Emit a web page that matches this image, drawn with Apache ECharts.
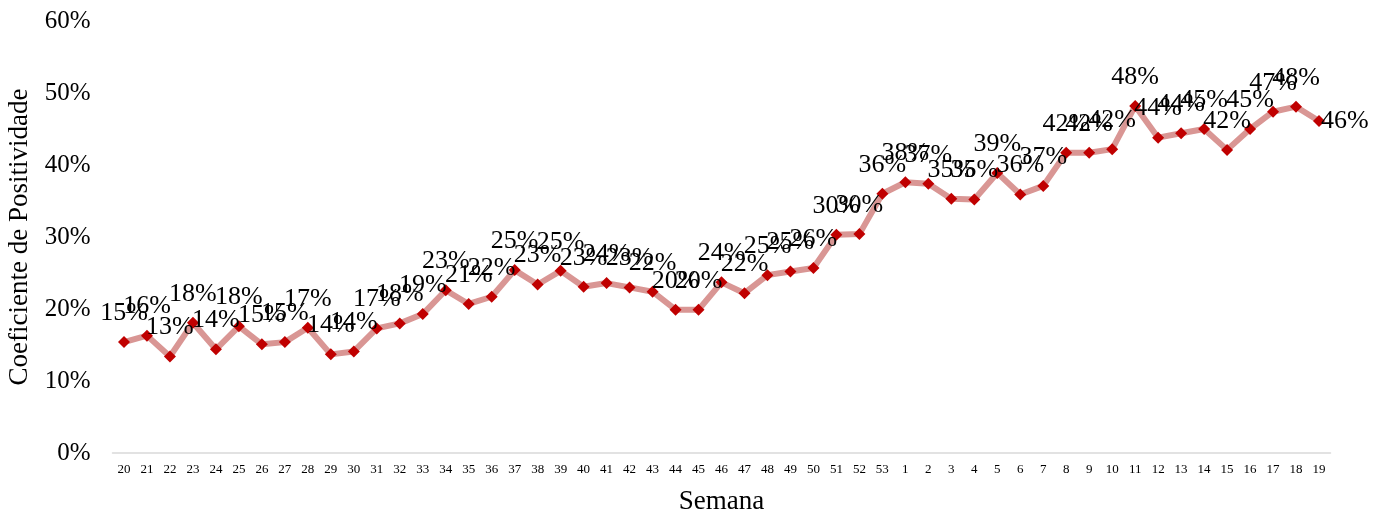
<!DOCTYPE html>
<html>
<head>
<meta charset="utf-8">
<script src="https://cdn.jsdelivr.net/npm/echarts@6/dist/echarts.min.js"></script>
<style>html,body{margin:0;padding:0;background:#fff}#c{width:1376px;height:514px}</style>
</head>
<body>
<div id="c"></div>
<script>
const weeks = ['20','21','22','23','24','25','26','27','28','29','30','31','32','33','34','35','36','37','38','39','40','41','42','43','44','45','46','47','48','49','50','51','52','53','1','2','3','4','5','6','7','8','9','10','11','12','13','14','15','16','17','18','19'];
const positividade = [15.4,16.3,13.4,18.1,14.4,17.6,15.1,15.4,17.4,13.7,14.1,17.3,18.0,19.3,22.6,20.7,21.7,25.4,23.4,25.3,23.1,23.6,23.0,22.4,19.9,19.9,23.7,22.2,24.7,25.2,25.7,30.3,30.4,36.0,37.6,37.4,35.3,35.2,38.9,35.9,37.1,41.7,41.7,42.2,48.2,43.8,44.4,45.0,42.1,45.0,47.4,48.1,46.1];
const yTicks = [0,10,20,30,40,50,60];

const serif = '"Liberation Serif", "DejaVu Serif", serif';
const chart = echarts.init(document.getElementById('c'));
const data = positividade.map((v, i) => {
  const d = { value: v };
  if (i === positividade.length - 1) d.label = { position: 'right', distance: -4 };
  return d;
});
chart.setOption({
  animation: false,
  grid: { left: 112.5, right: 45.5, top: 21, bottom: 61, outerBoundsMode: 'none', containLabel: false },
  xAxis: {
    type: 'category',
    data: weeks,
    boundaryGap: true,
    name: 'Semana',
    nameLocation: 'middle',
    nameGap: 35,
    nameTextStyle: { fontFamily: serif, fontSize: 27, color: '#000' },
    axisLine: { lineStyle: { color: '#d9d9d9', width: 1.5 } },
    axisTick: { show: false },
    axisLabel: { fontFamily: serif, fontSize: 13, color: '#000', margin: 10, interval: 0 }
  },
  yAxis: {
    type: 'value',
    min: yTicks[0],
    max: yTicks[yTicks.length - 1],
    interval: 10,
    name: 'Coeficiente de Positividade',
    nameLocation: 'middle',
    nameGap: 76,
    nameTextStyle: { fontFamily: serif, fontSize: 27, color: '#000' },
    axisLine: { show: false },
    axisTick: { show: false },
    splitLine: { show: false },
    axisLabel: { formatter: '{value}%', fontFamily: serif, fontSize: 25, color: '#000', margin: 22 }
  },
  series: [{
    type: 'line',
    data: data,
    symbol: 'diamond',
    symbolSize: 12,
    itemStyle: { color: '#c00000' },
    lineStyle: { color: '#d99694', width: 6 },
    label: {
      show: true,
      position: 'top',
      distance: 10,
      fontFamily: serif,
      fontSize: 26,
      color: '#000',
      formatter: p => Math.round(p.value) + '%'
    }
  }]
});
</script>
</body>
</html>
